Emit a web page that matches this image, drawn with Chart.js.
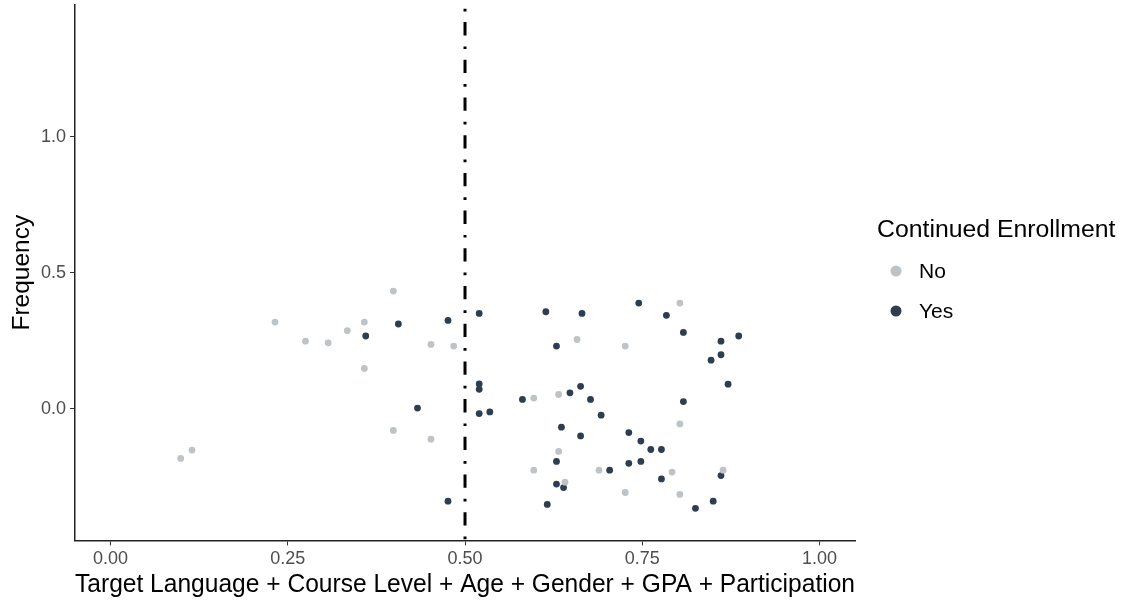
<!DOCTYPE html>
<html>
<head>
<meta charset="utf-8">
<script src="https://cdn.jsdelivr.net/npm/chart.js@4.4.1/dist/chart.umd.min.js"></script>
<style>
  html, body { margin: 0; padding: 0; background: #fff; }
  #wrap { width: 1127px; height: 606px; }
</style>
</head>
<body>
<div id="wrap"><canvas id="chart" width="1127" height="606"></canvas></div>
<script>
// values
const groups = ['No', 'Yes'];
const groupColors = ['#BDC3C7', '#2C3E50'];

const noScore = [0.099, 0.115, 0.232, 0.275, 0.307, 0.334, 0.358, 0.358, 0.399, 0.399, 0.452, 0.452, 0.484,
  0.597, 0.597, 0.632, 0.632, 0.641, 0.658, 0.689, 0.726, 0.726, 0.792, 0.803, 0.803, 0.803, 0.864];
const noFreq = [-0.182, -0.151, 0.319, 0.249, 0.243, 0.288, 0.319, 0.149, 0.433, -0.079, 0.237, -0.111, 0.231,
  0.040, -0.225, 0.053, -0.156, -0.269, 0.255, -0.225, 0.231, -0.307, -0.232, 0.389, -0.055, -0.314, -0.225];

const yesScore = [0.360, 0.406, 0.433, 0.476, 0.476, 0.520, 0.520, 0.520, 0.520, 0.535, 0.581, 0.614, 0.616,
  0.629, 0.629, 0.629, 0.636, 0.639, 0.648, 0.663, 0.663, 0.665, 0.677, 0.692, 0.704, 0.731, 0.731, 0.745,
  0.748, 0.748, 0.762, 0.777, 0.777, 0.784, 0.808, 0.808, 0.825, 0.847, 0.850, 0.861, 0.861, 0.861, 0.871, 0.886];
const yesFreq = [0.268, 0.312, 0.003, 0.325, -0.339, 0.351, 0.092, 0.072, -0.017, -0.011, 0.035, 0.357, -0.351,
  0.231, -0.193, -0.276, -0.067, -0.289, 0.059, 0.083, -0.099, 0.351, 0.035, -0.023, -0.225, -0.087, -0.200, 0.389,
  -0.118, -0.193, -0.149, -0.149, -0.257, 0.344, 0.281, 0.027, -0.365, 0.179, -0.339, 0.249, 0.199, -0.245, 0.091, 0.268];

const xTicks = [0, 0.25, 0.5, 0.75, 1];
const xTickLabels = ['0.00', '0.25', '0.50', '0.75', '1.00'];
const yTicks = [0, 0.5, 1];
const yTickLabels = ['0.0', '0.5', '1.0'];
const cutoff = 0.5;

function toPoints(xs, ys) {
  return xs.map((x, i) => ({ x: x, y: ys[i] }));
}

const FONT = '"Liberation Sans", Arial, sans-serif';

// dash-dot reference line at the cutoff
const cutoffLine = {
  id: 'cutoffLine',
  afterDatasetsDraw(chart) {
    const ctx = chart.ctx;
    const area = chart.chartArea;
    const px = chart.scales.x.getPixelForValue(cutoff);
    ctx.save();
    ctx.strokeStyle = '#000';
    ctx.lineWidth = 3;
    ctx.setLineDash([13.3, 11, 2.7, 10.7]);
    ctx.lineDashOffset = 20.6;
    ctx.beginPath();
    ctx.moveTo(px, area.top);
    ctx.lineTo(px, area.bottom);
    ctx.stroke();
    ctx.restore();
  }
};

// legend drawn at the right, like the ggplot guide
const sideLegend = {
  id: 'sideLegend',
  afterDraw(chart) {
    const ctx = chart.ctx;
    ctx.save();
    ctx.fillStyle = '#000';
    ctx.textBaseline = 'middle';
    ctx.font = '24.8px ' + FONT;
    ctx.fillText('Continued Enrollment', 877, 230);
    ctx.font = '21px ' + FONT;
    chart.data.datasets.forEach((ds, i) => {
      const y = 271 + i * 40;
      ctx.fillStyle = ds.backgroundColor;
      ctx.beginPath();
      ctx.arc(896, y, 5.5, 0, Math.PI * 2);
      ctx.fill();
      ctx.fillStyle = '#000';
      ctx.fillText(ds.label, 919, y + 1);
    });
    ctx.restore();
  }
};

// keep the plot panel edges where the layout padding puts them
function noEdgePadding(scale) {
  scale.paddingTop = 0;
  scale.paddingBottom = 0;
  scale.paddingLeft = 0;
  scale.paddingRight = 0;
}

new Chart(document.getElementById('chart').getContext('2d'), {
  type: 'scatter',
  data: {
    datasets: [
      {
        label: groups[0],
        data: toPoints(noScore, noFreq),
        backgroundColor: groupColors[0],
        borderWidth: 0,
        pointRadius: 3.4
      },
      {
        label: groups[1],
        data: toPoints(yesScore, yesFreq),
        backgroundColor: groupColors[1],
        borderWidth: 0,
        pointRadius: 3.4
      }
    ]
  },
  options: {
    responsive: false,
    animation: false,
    layout: { padding: { top: 5, right: 272, bottom: 8, left: 0 } },
    plugins: {
      legend: { display: false },
      tooltip: { enabled: false }
    },
    scales: {
      x: {
        type: 'linear',
        min: -0.05,
        max: 1.05,
        afterBuildTicks: (scale) => { scale.ticks = xTicks.map(v => ({ value: v })); },
        afterFit: noEdgePadding,
        ticks: {
          callback: (v) => xTickLabels[xTicks.indexOf(v)],
          color: '#4d4d4d',
          font: { family: FONT, size: 18 },
          padding: 3,
          maxRotation: 0
        },
        grid: { display: true, drawOnChartArea: false, drawTicks: true, tickLength: 5, color: '#333', lineWidth: 1 },
        border: { display: true, color: '#222', width: 1.5 },
        title: {
          display: true,
          text: 'Target Language + Course Level + Age + Gender + GPA + Participation',
          color: '#000',
          font: { family: FONT, size: 25, lineHeight: 1 },
          padding: { top: 0, bottom: 0 }
        }
      },
      y: {
        type: 'linear',
        min: -0.483,
        max: 1.484,
        afterBuildTicks: (scale) => { scale.ticks = yTicks.map(v => ({ value: v })); },
        afterFit: noEdgePadding,
        ticks: {
          callback: (v) => yTickLabels[yTicks.indexOf(v)],
          color: '#4d4d4d',
          font: { family: FONT, size: 18 },
          padding: 4
        },
        grid: { display: true, drawOnChartArea: false, drawTicks: true, tickLength: 5, color: '#333', lineWidth: 1 },
        border: { display: true, color: '#222', width: 1.5 },
        title: {
          display: true,
          text: 'Frequency',
          color: '#000',
          font: { family: FONT, size: 24.5, lineHeight: 1 },
          padding: { top: 9.5, bottom: 3 }
        }
      }
    }
  },
  plugins: [cutoffLine, sideLegend]
});
</script>
</body>
</html>
